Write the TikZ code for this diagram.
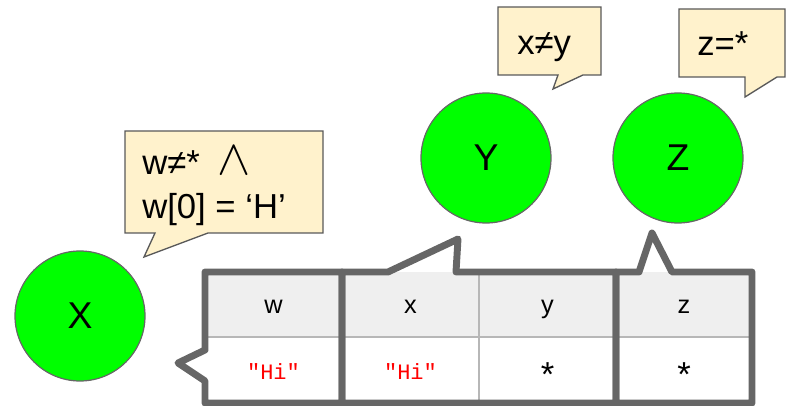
\documentclass[tikz,border=0pt]{standalone}
\usepackage{fontspec}
\setmainfont{Liberation Sans}
\setmonofont{Liberation Mono}
\usepackage{xcolor}
\usetikzlibrary{positioning}

\definecolor{varfill}{HTML}{00FF00}
\definecolor{notefill}{HTML}{FFF2CC}
\definecolor{notedraw}{HTML}{595959}
\definecolor{borderdark}{HTML}{666666}
\definecolor{gridlight}{HTML}{B7B7B7}
\definecolor{headfill}{HTML}{EFEFEF}

\tikzset{
  var/.style={circle, draw=borderdark, line width=0.9pt, fill=varfill,
    minimum size=97.5pt, inner sep=0pt, font=\fontsize{28}{28}\selectfont},
  note/.style={draw=notedraw, fill=notefill, line width=1pt},
  notetext/.style={font=\fontsize{26}{26}\selectfont, inner sep=0pt, anchor=base west},
  cell/.style={font=\fontsize{19}{19}\selectfont, inner sep=0pt, anchor=base},
  val/.style={font=\fontsize{16.5}{16.5}\ttfamily, text=red, inner sep=0pt, anchor=base},
  starcell/.style={font=\fontsize{26}{26}\selectfont, inner sep=0pt, anchor=base},
  group/.style={draw=borderdark, line width=5.2pt, line join=round},
  thin/.style={draw=gridlight, line width=1.5pt}
}

\begin{document}
\begin{tikzpicture}[x=0.75pt, y=-0.75pt]
      \useasboundingbox (0,0) rectangle (786,406);

      % Variables
      \node[var] (X) at (80,316) {X};
      \node[var] (Y) at (486,158) {Y};
      \node[var] (Z) at (678,158) {Z};

      % Notes
      \draw[note] (125,131) -- (323,131) -- (323,233) -- (208,233) -- (144,257)
        -- (155,233) -- (125,233) -- cycle;
      \node[notetext] (condw) at (142,175)
        {w≠*\hspace{0.5em}\scalebox{1.5}{$\wedge$}};
      \node[notetext] (condh) at (142,219) {w[0] = ‘H’};

      \draw[note] (498,7) -- (601,7) -- (601,75) -- (583,75) -- (553,89)
        -- (558,75) -- (498,75) -- cycle;
      \node[notetext] (condxy) at (517,55) {x≠y};

      \draw[note] (679,9) -- (785,9) -- (785,77) -- (777,77) -- (745,97)
        -- (745,77) -- (679,77) -- cycle;
      \node[notetext] (condz) at (697,56) {z=*};

      % Table
      \fill[headfill] (205,272) rectangle (752,337);
      \draw[thin] (205,337) -- (752,337);
      \draw[thin] (479,272) -- (479,403);

      \node[cell] (hw) at (273.5,313) {w};
      \node[cell] (hx) at (410.5,313) {x};
      \node[cell] (hy) at (547.5,313) {y};
      \node[cell] (hz) at (684,313) {z};
      \node[val] (vw) at (273.5,379) {"Hi"};
      \node[val] (vx) at (410.5,379) {"Hi"};
      \node[starcell] (vy) at (547.5,386) {*};
      \node[starcell] (vz) at (684,386) {*};

      % Groups
      \draw[group] (342,272) -- (205,272) -- (205,350) -- (178,363) -- (205,381)
        -- (205,403) -- (342,403) -- cycle;
      \draw[group] (342,272) -- (388,272) -- (458,239) -- (456,272) -- (616,272)
        -- (616,403) -- (342,403) -- cycle;
      \draw[group] (616,272) -- (639,272) -- (652,233) -- (672,272) -- (752,272)
        -- (752,403) -- (616,403) -- cycle;
    \end{tikzpicture}
\end{document}
